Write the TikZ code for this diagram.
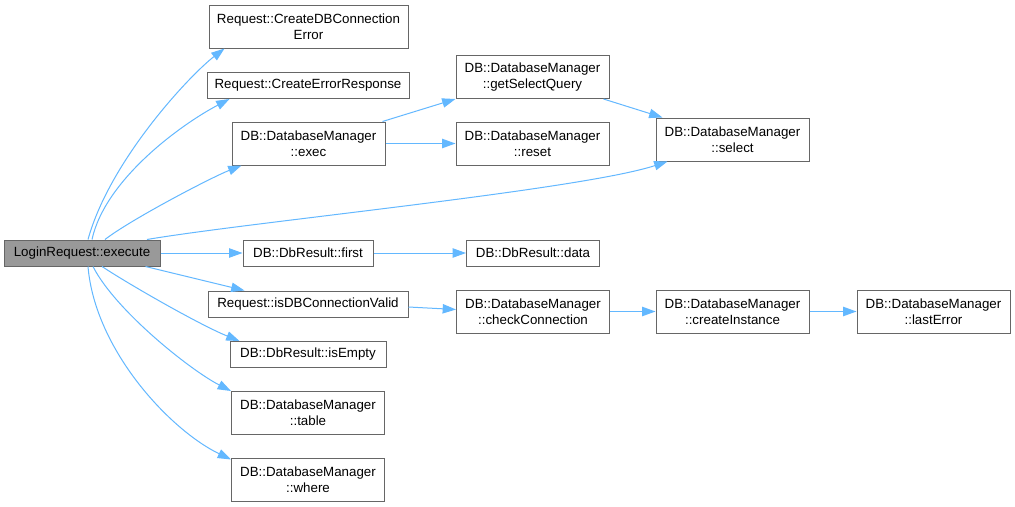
\documentclass[tikz,border=0pt]{standalone}
\usepackage{fontspec}
\setmainfont{Liberation Sans}
\usepackage{xcolor}
\usetikzlibrary{calc, arrows.meta}

\definecolor{callblue}{HTML}{63B8FF}
\definecolor{boxgray}{HTML}{666666}
\definecolor{rootfill}{HTML}{999999}

\tikzset{
  fn/.style={draw=boxgray, line width=0.75pt, fill=white, inner sep=0pt, align=center,
    font=\fontsize{10}{12}\selectfont, minimum height=19.5pt},
  fntwo/.style={fn, minimum height=32.25pt, minimum width=114.75pt},
  call/.style={draw=callblue, line width=0.75pt, -{Triangle[length=10pt, width=7pt]}}
}

\begin{document}
\begin{tikzpicture}[x=0.75pt, y=-0.75pt]
  \useasboundingbox[fill=white] (0,0) rectangle (1015,507);
  % Root function
  \node[fn, fill=rootfill, minimum width=117pt] (exe) at (82,253) {LoginRequest::execute};
  % Called from execute
  \node[fntwo, minimum width=149.25pt] (cdbe) at (308.5,26.5) {Request::CreateDBConnection\\Error};
  \node[fn, minimum width=151.5pt] (cer) at (308,85.5) {Request::CreateErrorResponse};
  \node[fntwo] (exec) at (308.5,143.5) {DB::DatabaseManager\\::exec};
  \node[fn, minimum width=97.5pt] (first) at (308,253) {DB::DbResult::first};
  \node[fn, minimum width=150pt] (valid) at (308,304) {Request::isDBConnectionValid};
  \node[fn, minimum width=117pt] (empty) at (308,354.5) {DB::DbResult::isEmpty};
  \node[fntwo] (table) at (308,413) {DB::DatabaseManager\\::table};
  \node[fntwo] (where) at (308,479.5) {DB::DatabaseManager\\::where};
  % Second level
  \node[fntwo] (gsq) at (532.5,77) {DB::DatabaseManager\\::getSelectQuery};
  \node[fntwo] (reset) at (532.5,143.5) {DB::DatabaseManager\\::reset};
  \node[fn, minimum width=99.75pt] (data) at (533,253) {DB::DbResult::data};
  \node[fntwo] (check) at (533,311.5) {DB::DatabaseManager\\::checkConnection};
  \node[fntwo] (select) at (732.5,139.5) {DB::DatabaseManager\\::select};
  \node[fntwo] (create) at (732.5,311.5) {DB::DatabaseManager\\::createInstance};
  \node[fntwo] (last) at (933.5,311.5) {DB::DatabaseManager\\::lastError};

  % Calls fanning out of execute
  \draw[call] ($(exe.north)+(6,0)$) .. controls (110,160) and (190,75) .. ($(cdbe.south west)+(16,0)$);
  \draw[call] ($(exe.north)+(10,0)$) .. controls (105,180) and (180,125) .. ($(cer.south west)+(23,0)$);
  \draw[call] ($(exe.north)+(23,0)$) .. controls (130,220) and (210,178) .. ($(exec.south west)+(10,0)$);
  \draw[call] ($(exe.north)+(65,0)$) .. controls (250,222) and (580,190) .. ($(select.south west)+(12,0)$);
  \draw[call] (exe.east) -- (first.west);
  \draw[call] ($(exe.south east)+(-15,0)$) -- ($(valid.north west)+(37,0)$);
  \draw[call] ($(exe.south)+(20,0)$) .. controls (130,285) and (200,325) .. ($(empty.north west)+(10,0)$);
  \draw[call] ($(exe.south)+(11,0)$) .. controls (115,310) and (190,370) .. (table.north west);
  \draw[call] ($(exe.south)+(6,0)$) .. controls (95,350) and (170,430) .. ($(where.north west)+(0,2)$);
  % Deeper calls
  \draw[call] ($(exec.north east)+(-3,0)$) -- (gsq.south west);
  \draw[call] (exec.east) -- (reset.west);
  \draw[call] ($(gsq.south east)+(-6,0)$) -- ($(select.north west)+(7,0)$);
  \draw[call] (first.east) -- (data.west);
  \draw[call] ($(valid.east)+(0,3)$) -- ($(check.west)+(0,-2)$);
  \draw[call] (check.east) -- (create.west);
  \draw[call] (create.east) -- (last.west);
\end{tikzpicture}
\end{document}
